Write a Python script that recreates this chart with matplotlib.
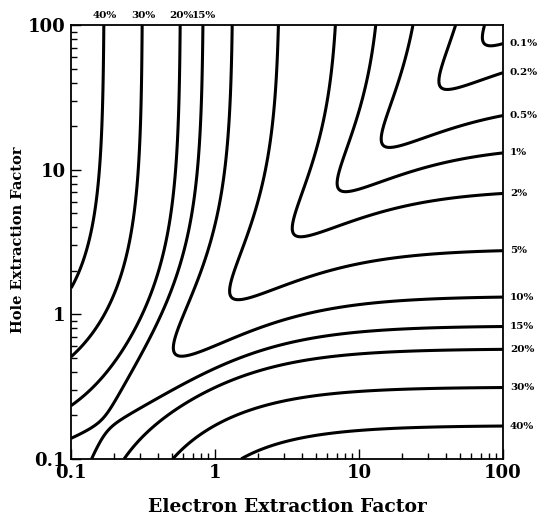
import numpy as np
import matplotlib
matplotlib.use("Agg")
import matplotlib.pyplot as plt
from matplotlib.ticker import LogLocator, NullFormatter, FixedLocator, FixedFormatter

# Contour levels (fractional spread of collected charge) and their labels
levels = [0.001, 0.002, 0.005, 0.01, 0.02, 0.05, 0.10, 0.15, 0.20, 0.30, 0.40]
level_labels = ["0.1%", "0.2%", "0.5%", "1%", "2%", "5%", "10%", "15%", "20%", "30%", "40%"]
top_labelled = ["40%", "30%", "20%", "15%"]

tick_values = [0.1, 1, 10, 100]
tick_labels = ["0.1", "1", "10", "100"]

x_range = (0.1, 100)
y_range = (0.1, 100)


def charge_spread(ae, ah, n_depth=1200):
    """Relative std. dev. of the Hecht charge collection efficiency for
    interactions uniformly distributed through a planar detector."""
    z = (np.arange(n_depth) + 0.5) / n_depth
    ae = ae[..., None]
    ah = ah[..., None]
    cce = ae * (1 - np.exp(-(1 - z) / ae)) + ah * (1 - np.exp(-z / ah))
    return cce.std(axis=-1) / cce.mean(axis=-1)


ex = np.logspace(np.log10(x_range[0]), np.log10(x_range[1]), 360)
hx = np.logspace(np.log10(y_range[0]), np.log10(y_range[1]), 360)
E, H = np.meshgrid(ex, hx)
S = np.empty_like(E)
for r in range(E.shape[0]):
    S[r] = charge_spread(E[r], H[r])

plt.rcParams["font.family"] = "DejaVu Serif"
plt.rcParams["font.weight"] = "bold"

fig = plt.figure(figsize=(5.39, 5.25), dpi=100)
ax = fig.add_axes([0.132, 0.126, 0.801, 0.826])
cs = ax.contour(E, H, S, levels=levels, colors="black", linewidths=2.2)
ax.set_xscale("log")
ax.set_yscale("log")
ax.set_xlim(*x_range)
ax.set_ylim(*y_range)

for a in (ax.xaxis, ax.yaxis):
    a.set_major_locator(FixedLocator(tick_values))
    a.set_major_formatter(FixedFormatter(tick_labels))
    a.set_minor_locator(LogLocator(base=10, subs=np.arange(2, 10)))
    a.set_minor_formatter(NullFormatter())
ax.tick_params(which="both", direction="in", top=False, right=False, width=1.0)
ax.tick_params(which="major", length=7, labelsize=13, pad=4)
ax.tick_params(which="minor", length=4)
for lab in ax.get_xticklabels() + ax.get_yticklabels():
    lab.set_fontweight("bold")
for sp in ax.spines.values():
    sp.set_linewidth(1.3)

ax.set_xlabel("Electron Extraction Factor", fontsize=13.5, fontweight="bold")
ax.xaxis.set_label_coords(0.502, -0.09)
ax.set_ylabel("Hole Extraction Factor", fontsize=10.5, fontweight="bold")
ax.yaxis.set_label_coords(-0.106, 0.505)

# Label each contour where it meets the right and top frame edges
for lev, lab, segs in zip(levels, level_labels, cs.allsegs):
    right_pts = []
    top_pts = []
    for seg in segs:
        for p in (seg[0], seg[-1]):
            if np.isclose(p[0], x_range[1], rtol=1e-3):
                right_pts.append(p)
            if np.isclose(p[1], y_range[1], rtol=1e-3):
                top_pts.append(p)
    for p in right_pts:
        ax.annotate(lab, xy=(x_range[1], p[1]), xytext=(5, 0), textcoords="offset points",
                    ha="left", va="center", fontsize=7.5, fontweight="bold",
                    annotation_clip=False)
    if lab in top_labelled:
        for p in top_pts:
            ax.annotate(lab, xy=(p[0], y_range[1]), xytext=(1, 4), textcoords="offset points",
                        ha="center", va="bottom", fontsize=7.5, fontweight="bold",
                        annotation_clip=False)

fig.savefig("out.png", dpi=100)
